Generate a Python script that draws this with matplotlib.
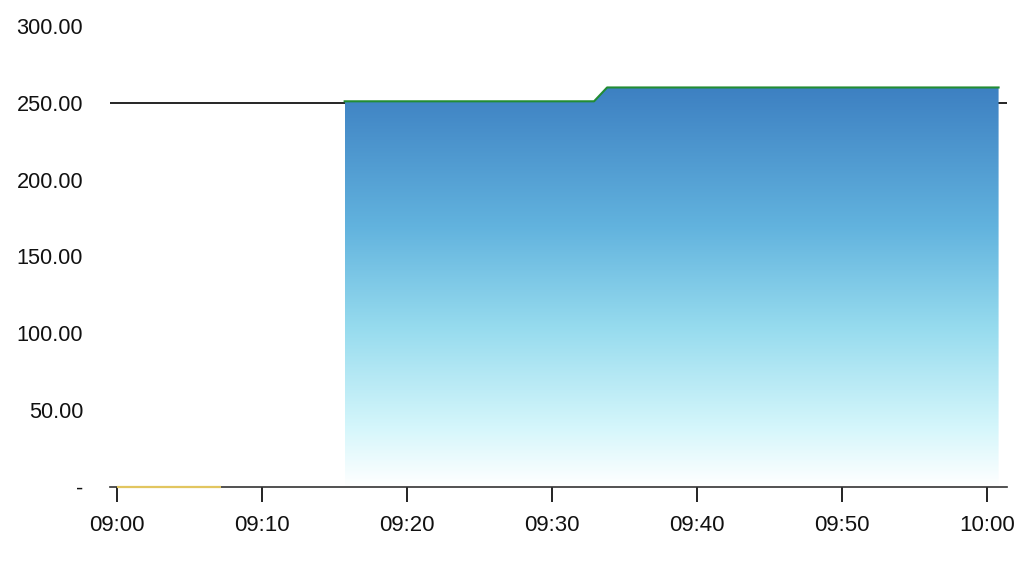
import matplotlib
matplotlib.use("Agg")
import matplotlib.pyplot as plt
import numpy as np
from matplotlib.colors import LinearSegmentedColormap
from matplotlib.patches import Polygon

plt.rcParams['font.family'] = ['Liberation Sans', 'DejaVu Sans']

# minutes after 09:00
area_x = [15.7, 32.9, 33.8, 60.8]
area_y = [251, 251, 260, 260]
zero_x = [0.0, 7.2]
zero_y = [0, 0]
ref_value = 250
xticks = [0, 10, 20, 30, 40, 50, 60]
xtick_labels = ["09:00", "09:10", "09:20", "09:30", "09:40", "09:50", "10:00"]
yticks = [0, 50, 100, 150, 200, 250, 300]

fig = plt.figure(figsize=(10.24, 5.63), dpi=100)
ax = fig.add_axes([110/1024, 1-487/563, 897/1024, (487-26)/563])
xmin, xmax = -0.483, 61.38
ax.set_xlim(xmin, xmax)
ax.set_ylim(0, 300)

# reference line
ax.axhline(ref_value, color='black', lw=1.2, zorder=2)

# gradient area
cmap = LinearSegmentedColormap.from_list('g', [
    (0.0, '#3d80c2'), (0.35, '#62b3de'), (0.6, '#96dbee'), (0.85, '#d4f6fb'), (1.0, '#ffffff')])
top = max(area_y)
grad = np.linspace(0, 1, 256).reshape(-1, 1)
img = ax.imshow(grad, cmap=cmap, aspect='auto',
                extent=[area_x[0], area_x[-1], 0, top], origin='upper', zorder=3)
poly_pts = [(area_x[0], 0)] + list(zip(area_x, area_y)) + [(area_x[-1], 0)]
poly = Polygon(poly_pts, closed=True, transform=ax.transData, facecolor='none', edgecolor='none')
ax.add_patch(poly)
img.set_clip_path(poly)
ax.plot(area_x, area_y, color='#228c34', lw=1.5, zorder=4)

ax.plot(zero_x, zero_y, color='#e2c660', lw=1.6, zorder=6, solid_capstyle='butt', clip_on=False)

for s in ['top', 'right', 'left']:
    ax.spines[s].set_visible(False)
ax.spines['bottom'].set_color('#333333')
ax.spines['bottom'].set_linewidth(1.2)
ax.spines['bottom'].set_zorder(5)

ax.set_xticks(xticks)
ax.set_xticklabels(xtick_labels)
ax.tick_params(axis='x', length=11, width=1.4, color='#222222', pad=9.5, labelsize=16, labelcolor='#111111')
ax.set_yticks(yticks)
ax.set_yticklabels(['-' if v == 0 else f"{v:.2f}" for v in yticks])
ax.tick_params(axis='y', length=0, pad=19.4, labelsize=15.7, labelcolor='#111111')

fig.savefig('out.png', dpi=100)
